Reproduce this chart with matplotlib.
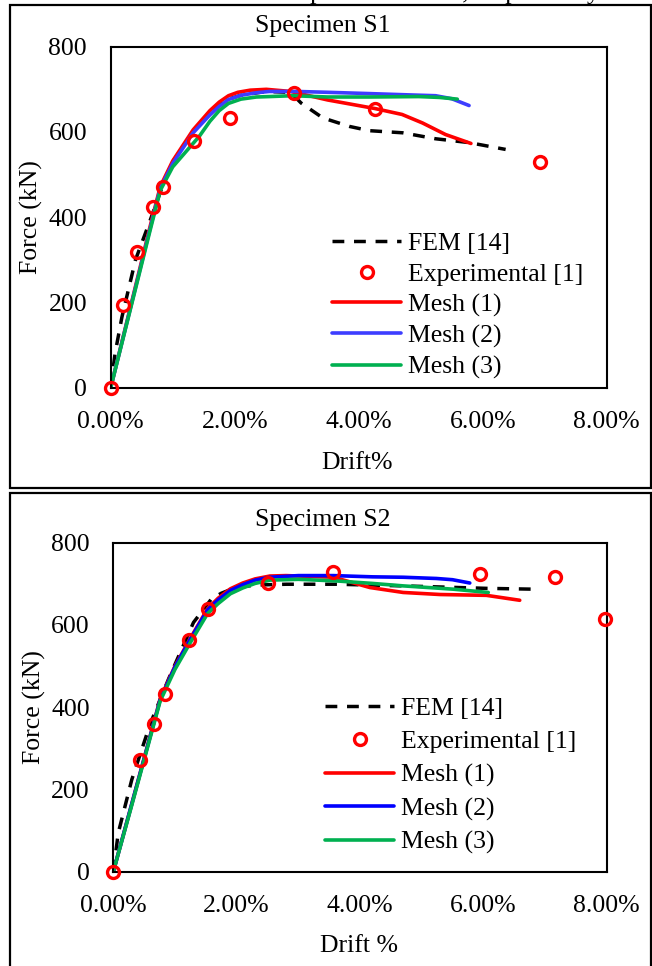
import numpy as np
import matplotlib
matplotlib.use("Agg")
import matplotlib.pyplot as plt
from matplotlib.patches import Rectangle

plt.rcParams['font.family'] = ['Liberation Serif', 'DejaVu Serif']

# ---- Specimen S1 (drift in %, force in kN) ----
s1_exp_x = [0.0, 0.20, 0.43, 0.68, 0.85, 1.35, 1.93, 2.96, 4.26, 6.93]
s1_exp_y = [0, 194, 319, 425, 471, 579, 633, 691, 654, 529]

s1_fem_x = [0.0, 0.07, 0.18, 0.40, 0.63, 0.84, 1.00, 1.33, 1.60, 1.86, 2.10, 2.50, 2.90, 3.07, 3.42, 3.85, 4.17, 4.71, 5.24, 5.78, 6.37]
s1_fem_y = [0, 80, 165, 300, 390, 475, 530, 600, 645, 675, 686, 695, 693, 668, 633, 613, 603, 598, 584, 575, 559]

s1_m1_x = [0.0, 0.30, 0.63, 0.80, 1.00, 1.33, 1.60, 1.75, 1.90, 2.05, 2.25, 2.51, 2.90, 3.50, 4.26, 4.70, 5.03, 5.40, 5.81]
s1_m1_y = [0, 178, 375, 472, 532, 605, 650, 670, 685, 693, 698, 700, 695, 675, 655, 641, 621, 594, 573]

s1_m2_x = [0.0, 0.30, 0.63, 0.80, 1.00, 1.33, 1.60, 1.75, 1.90, 2.10, 2.35, 2.56, 3.00, 3.50, 4.17, 4.80, 5.24, 5.50, 5.78]
s1_m2_y = [0, 176, 370, 468, 526, 598, 640, 660, 676, 686, 692, 695, 695, 693, 690, 687, 685, 678, 662]

s1_m3_x = [0.0, 0.30, 0.63, 0.80, 1.00, 1.43, 1.60, 1.75, 1.90, 2.10, 2.35, 2.56, 2.93, 3.50, 4.17, 4.97, 5.30, 5.59]
s1_m3_y = [0, 174, 366, 463, 518, 590, 625, 650, 667, 677, 682, 683, 685, 682, 682, 683, 681, 677]

# ---- Specimen S2 ----
s2_exp_x = [0.0, 0.43, 0.66, 0.84, 1.23, 1.53, 2.51, 3.56, 5.95, 7.16, 7.97]
s2_exp_y = [0, 272, 360, 433, 563, 640, 703, 728, 724, 716, 614]

s2_fem_x = [0.0, 0.08, 0.30, 0.60, 0.90, 1.30, 1.59, 1.75, 1.90, 2.10, 2.30, 2.81, 3.62, 4.70, 6.05, 6.81]
s2_fem_y = [0, 94, 224, 360, 470, 606, 663, 677, 686, 693, 697, 699, 699, 695, 689, 687]

s2_m1_x = [0.0, 0.30, 0.76, 1.00, 1.24, 1.53, 1.70, 1.90, 2.10, 2.30, 2.54, 2.80, 3.57, 4.16, 4.70, 5.30, 6.05, 6.59]
s2_m1_y = [0, 165, 420, 500, 565, 640, 665, 688, 702, 712, 719, 720, 716, 691, 679, 674, 672, 660]

s2_m2_x = [0.0, 0.30, 0.76, 1.00, 1.24, 1.53, 1.70, 1.90, 2.10, 2.30, 2.54, 3.00, 3.57, 4.20, 4.70, 5.24, 5.50, 5.78]
s2_m2_y = [0, 165, 418, 498, 563, 637, 661, 684, 698, 709, 716, 720, 720, 717, 716, 713, 710, 702]

s2_m3_x = [0.0, 0.30, 0.76, 1.00, 1.24, 1.53, 1.70, 1.90, 2.10, 2.30, 2.54, 3.00, 3.62, 4.20, 4.70, 5.51, 6.08]
s2_m3_y = [0, 162, 415, 492, 555, 628, 652, 676, 690, 701, 709, 711, 707, 701, 695, 687, 679]

xticks = [0, 2, 4, 6, 8]
xtick_labels = ['0.00%', '2.00%', '4.00%', '6.00%', '8.00%']
yticks = [0, 200, 400, 600, 800]

FS = 18.5
W, H = 652, 966

fig = plt.figure(figsize=(W / 100, H / 100), dpi=100)


def px(x0, y0, x1, y1):
    # pixel box -> figure fraction [left, bottom, width, height]
    return [x0 / W, 1 - y1 / H, (x1 - x0) / W, (y1 - y0) / H]


def panel(rect, title_y, title, exp, fem, m1, m2, m3, blue, xlabel, leg_xy, leg_sp, lab_y):
    ax = fig.add_axes(rect)
    ax.plot(fem[0], fem[1], color='black', lw=2.5, dashes=(3.4, 2.8), label='FEM [14]')
    ax.plot(m1[0], m1[1], color='#ff0000', lw=2.6, solid_capstyle='round', label='Mesh (1)')
    ax.plot(m2[0], m2[1], color=blue, lw=2.6, solid_capstyle='round', label='Mesh (2)')
    ax.plot(m3[0], m3[1], color='#00b050', lw=2.6, solid_capstyle='round', label='Mesh (3)')
    ax.plot(exp[0], exp[1], ls='none', marker='o', ms=8.6, mfc='none', mec='#ff0000',
            mew=2.4, clip_on=False, zorder=5, label='Experimental [1]')
    ax.set_xlim(0, 8)
    ax.set_ylim(0, 800)
    ax.set_xticks(xticks)
    ax.set_xticklabels(xtick_labels)
    ax.set_yticks(yticks)
    ax.tick_params(length=0, labelsize=FS)
    ax.tick_params(axis='x', pad=17)
    ax.tick_params(axis='y', pad=17)
    for s in ax.spines.values():
        s.set_linewidth(1.5)
    ax.set_xlabel(xlabel, fontsize=FS)
    ax.xaxis.set_label_coords(0.497, lab_y)
    ax.set_ylabel('Force (kN)', fontsize=FS)
    ax.yaxis.set_label_coords(-0.136, 0.5)
    fig.text(323 / W, 1 - title_y / H, title, fontsize=FS, ha='center', va='center')

    h, l = ax.get_legend_handles_labels()
    order = [0, 4, 1, 2, 3]
    ax.legend([h[i] for i in order], [l[i] for i in order], loc='upper left',
              bbox_to_anchor=(leg_xy[0] / W, 1 - leg_xy[1] / H),
              bbox_transform=fig.transFigure, frameon=False, fontsize=FS,
              handlelength=2.7, handletextpad=0.25, labelspacing=leg_sp,
              borderpad=0, borderaxespad=0, numpoints=1)
    return ax


panel(px(110.7, 46.7, 606.7, 387.7), 26, 'Specimen S1',
      (s1_exp_x, s1_exp_y), (s1_fem_x, s1_fem_y),
      (s1_m1_x, s1_m1_y), (s1_m2_x, s1_m2_y), (s1_m3_x, s1_m3_y),
      '#3d3dff', 'Drift%', (332, 232), 0.30, -0.189)

panel(px(113.3, 542.7, 606.7, 871.7), 520, 'Specimen S2',
      (s2_exp_x, s2_exp_y), (s2_fem_x, s2_fem_y),
      (s2_m1_x, s2_m1_y), (s2_m2_x, s2_m2_y), (s2_m3_x, s2_m3_y),
      '#0000ff', 'Drift %', (325, 697), 0.40, -0.193)

# panel frames
fig.patches.append(Rectangle((9.5 / W, 1 - 488 / H), (651 - 9.5) / W, (488 - 4.7) / H,
                             transform=fig.transFigure, fill=False, lw=1.6, ec='black'))
fig.patches.append(Rectangle((9.5 / W, -0.01), (651 - 9.5) / W, 1 - 492.7 / H + 0.01,
                             transform=fig.transFigure, fill=False, lw=1.6, ec='black'))

# caption line cut off by the top edge of the picture
fig.text(600 / W, 1 + 1.5 / H, 'Load-drift relationship of S1 and S2, respectively',
         fontsize=FS, ha='right', va='baseline')

fig.savefig('out.png', dpi=100)
